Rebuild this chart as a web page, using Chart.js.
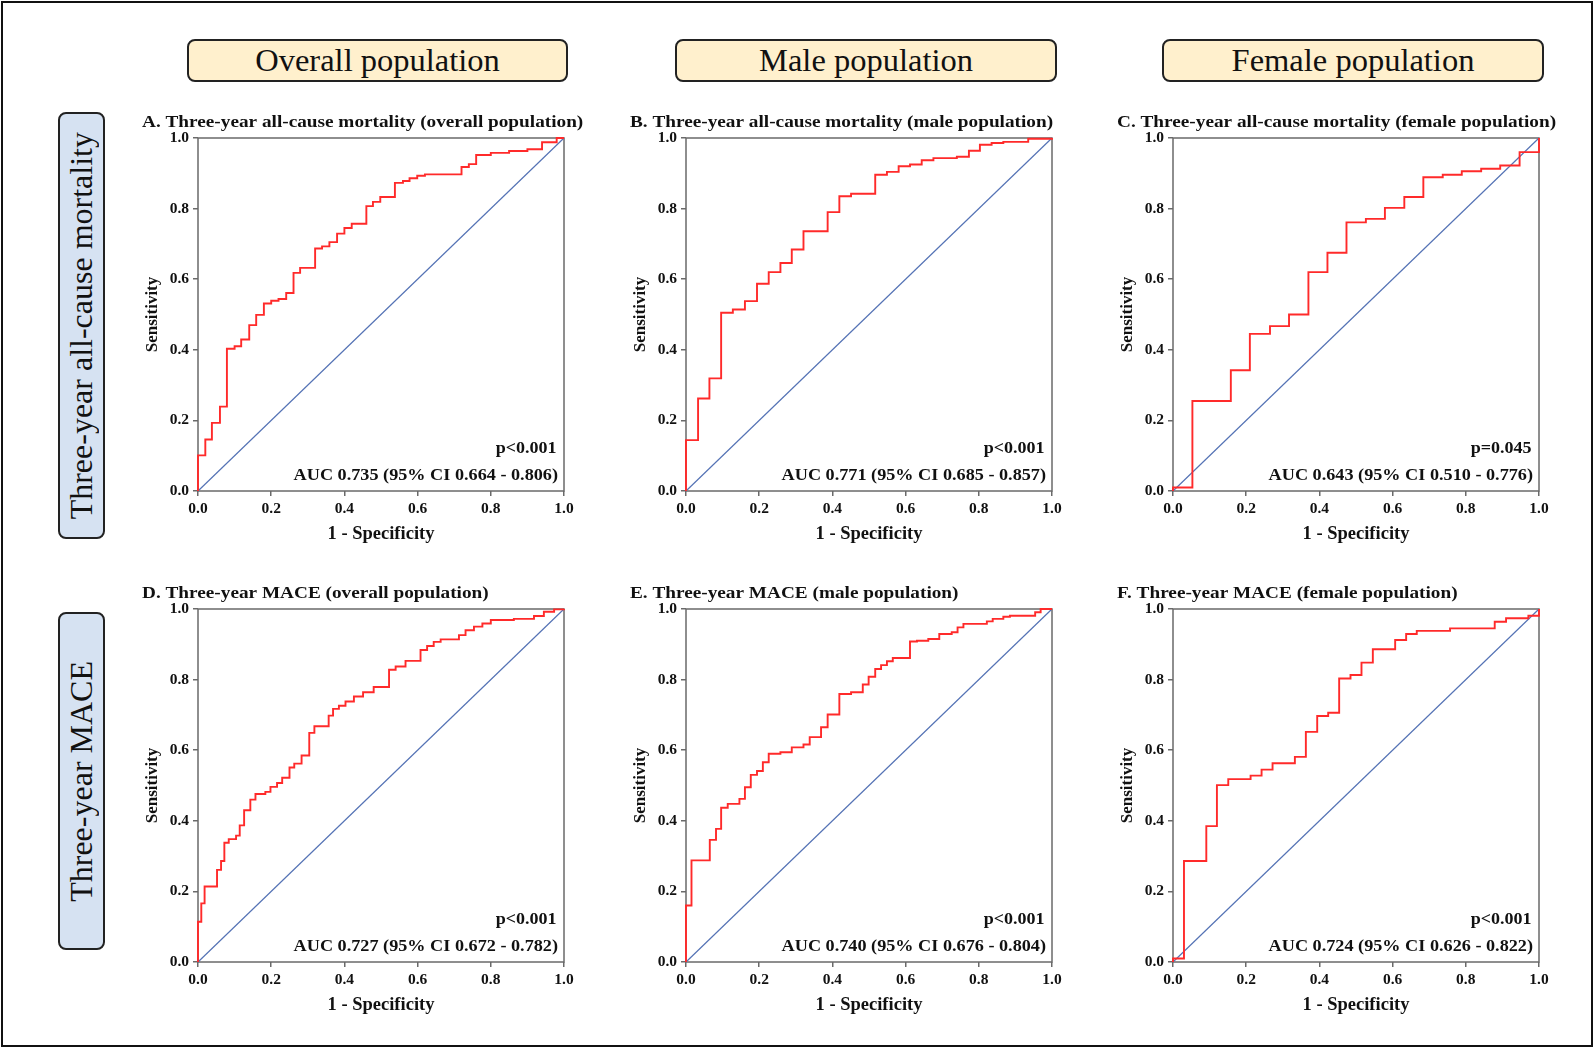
<!DOCTYPE html>
<html>
<head>
<meta charset="utf-8">
<title>ROC curves</title>
<script src="https://cdn.jsdelivr.net/npm/chart.js@4.4.1/dist/chart.umd.min.js"></script>
<style>
  body { margin: 0; background: #fff; }
  #page { position: relative; width: 1594px; height: 1048px; overflow: hidden; font-family: 'Liberation Serif', 'Times New Roman', serif; color: #111; }
  .frame { position: absolute; left: 1px; top: 1px; width: 1592px; height: 1046px; box-sizing: border-box; border: 2px solid #111; }
  .colhead { position: absolute; top: 39px; height: 43px; box-sizing: border-box; border: 2px solid #222; border-radius: 8px; background: #fff0cd; display: flex; align-items: center; justify-content: center; font-size: 32.5px; }
  .rowhead { position: absolute; left: 58px; width: 47px; box-sizing: border-box; border: 2px solid #222; border-radius: 8px; background: #d6e2f2; display: flex; align-items: center; justify-content: center; font-size: 32px; }
  .rowhead span { writing-mode: vertical-rl; transform: rotate(180deg); white-space: nowrap; }
  .panel { position: absolute; }
</style>
</head>
<body>
<div id="page">
  <div class="frame"></div>
</div>
<script>
// Headers
const columnHeaders = ['Overall population', 'Male population', 'Female population'];
const rowHeaders = ['Three-year all-cause mortality', 'Three-year MACE'];

// Panel texts
const panelTitles = [
  'A. Three-year all-cause mortality (overall population)',
  'B. Three-year all-cause mortality (male population)',
  'C. Three-year all-cause mortality (female population)',
  'D. Three-year MACE (overall population)',
  'E. Three-year MACE (male population)',
  'F. Three-year MACE (female population)'
];
const pLabels = ['p<0.001', 'p<0.001', 'p=0.045', 'p<0.001', 'p<0.001', 'p<0.001'];
const aucLabels = [
  'AUC 0.735 (95% CI 0.664 - 0.806)',
  'AUC 0.771 (95% CI 0.685 - 0.857)',
  'AUC 0.643 (95% CI 0.510 - 0.776)',
  'AUC 0.727 (95% CI 0.672 - 0.782)',
  'AUC 0.740 (95% CI 0.676 - 0.804)',
  'AUC 0.724 (95% CI 0.626 - 0.822)'
];

// Axis ticks
const tickValues = [0, 0.2, 0.4, 0.6, 0.8, 1.0];
const tickLabels = ['0.0', '0.2', '0.4', '0.6', '0.8', '1.0'];

// ROC points (1 - specificity, sensitivity)
const fprA = [0, 0, 0.02, 0.038, 0.06, 0.079, 0.1, 0.118, 0.14, 0.159, 0.18, 0.2, 0.22, 0.241, 0.261, 0.279, 0.32, 0.339, 0.359, 0.38, 0.4, 0.42, 0.46, 0.478, 0.498, 0.538, 0.56, 0.578, 0.599, 0.62, 0.72, 0.74, 0.76, 0.8, 0.85, 0.9, 0.94, 0.98, 1.0];
const tprA = [0, 0.101, 0.146, 0.193, 0.239, 0.403, 0.41, 0.429, 0.47, 0.499, 0.531, 0.539, 0.544, 0.561, 0.618, 0.632, 0.687, 0.693, 0.705, 0.729, 0.745, 0.757, 0.807, 0.819, 0.833, 0.873, 0.878, 0.886, 0.893, 0.897, 0.918, 0.926, 0.952, 0.958, 0.963, 0.968, 0.988, 1.0, 1.0];

const fprB = [0, 0, 0.033, 0.064, 0.096, 0.128, 0.161, 0.194, 0.226, 0.258, 0.289, 0.321, 0.387, 0.419, 0.451, 0.517, 0.549, 0.581, 0.612, 0.644, 0.676, 0.74, 0.773, 0.803, 0.835, 0.867, 0.935, 1.0];
const tprB = [0, 0.144, 0.262, 0.319, 0.505, 0.514, 0.538, 0.587, 0.62, 0.646, 0.684, 0.736, 0.79, 0.835, 0.842, 0.896, 0.904, 0.92, 0.925, 0.937, 0.943, 0.947, 0.964, 0.981, 0.986, 0.989, 0.998, 1.0];

const fprC = [0, 0, 0.053, 0.158, 0.21, 0.265, 0.317, 0.37, 0.422, 0.474, 0.527, 0.579, 0.632, 0.684, 0.737, 0.789, 0.842, 0.894, 0.947, 1.0];
const tprC = [0, 0.01, 0.255, 0.342, 0.445, 0.467, 0.5, 0.62, 0.675, 0.761, 0.771, 0.802, 0.833, 0.889, 0.896, 0.906, 0.913, 0.922, 0.96, 1.0];

const fprD = [0, 0, 0.009, 0.018, 0.052, 0.063, 0.072, 0.084, 0.104, 0.114, 0.126, 0.143, 0.157, 0.184, 0.198, 0.216, 0.23, 0.25, 0.263, 0.283, 0.304, 0.318, 0.357, 0.369, 0.385, 0.403, 0.426, 0.451, 0.48, 0.522, 0.54, 0.567, 0.608, 0.626, 0.644, 0.663, 0.713, 0.731, 0.754, 0.777, 0.8, 0.863, 0.918, 0.945, 0.973, 1.0];
const tprD = [0, 0.114, 0.166, 0.214, 0.261, 0.286, 0.338, 0.348, 0.358, 0.387, 0.43, 0.46, 0.476, 0.482, 0.496, 0.507, 0.522, 0.551, 0.562, 0.585, 0.649, 0.668, 0.698, 0.717, 0.726, 0.738, 0.752, 0.764, 0.779, 0.828, 0.837, 0.853, 0.884, 0.895, 0.907, 0.914, 0.926, 0.94, 0.95, 0.959, 0.969, 0.972, 0.98, 0.992, 0.999, 1.0];

const fprE = [0, 0, 0.015, 0.065, 0.082, 0.096, 0.114, 0.146, 0.161, 0.177, 0.194, 0.21, 0.226, 0.258, 0.289, 0.321, 0.338, 0.369, 0.387, 0.419, 0.451, 0.483, 0.499, 0.517, 0.533, 0.549, 0.565, 0.612, 0.631, 0.662, 0.692, 0.726, 0.742, 0.758, 0.822, 0.838, 0.867, 0.885, 0.954, 0.969, 1.0];
const tprE = [0, 0.16, 0.288, 0.346, 0.377, 0.437, 0.448, 0.462, 0.495, 0.53, 0.541, 0.566, 0.59, 0.594, 0.608, 0.616, 0.637, 0.665, 0.701, 0.759, 0.764, 0.786, 0.808, 0.83, 0.841, 0.852, 0.861, 0.908, 0.91, 0.915, 0.929, 0.934, 0.948, 0.958, 0.965, 0.972, 0.978, 0.981, 0.991, 1.0, 1.0];

const fprF = [0, 0, 0.03, 0.091, 0.12, 0.151, 0.212, 0.242, 0.272, 0.333, 0.363, 0.394, 0.424, 0.454, 0.485, 0.515, 0.546, 0.607, 0.637, 0.666, 0.757, 0.879, 0.91, 0.971, 1.0];
const tprF = [0, 0.01, 0.286, 0.385, 0.501, 0.518, 0.528, 0.545, 0.563, 0.581, 0.652, 0.697, 0.706, 0.803, 0.813, 0.848, 0.886, 0.912, 0.929, 0.938, 0.945, 0.964, 0.974, 0.981, 1.0];

const refX = [0, 1];
const refY = [0, 1];

const rocX = [fprA, fprB, fprC, fprD, fprE, fprF];
const rocY = [tprA, tprB, tprC, tprD, tprE, tprF];

// Layout
const FONT = "'Liberation Serif', 'Times New Roman', serif";
const colLefts = [198, 686, 1173];
const rowTops = [138, 609];
const PLOT_W = 366, PLOT_H = 353;
const GUT_L = 60, GUT_T = 32, GUT_R = 30, GUT_B = 58;
const headLefts = [187, 675, 1162];
const headWidths = [381, 382, 382];
const rowHeadTops = [112, 612];
const rowHeadHeights = [427, 338];

const page = document.getElementById('page');

columnHeaders.forEach((txt, i) => {
  const d = document.createElement('div');
  d.className = 'colhead';
  d.style.left = headLefts[i] + 'px';
  d.style.width = headWidths[i] + 'px';
  d.textContent = txt;
  page.appendChild(d);
});

rowHeaders.forEach((txt, i) => {
  const d = document.createElement('div');
  d.className = 'rowhead';
  d.style.top = rowHeadTops[i] + 'px';
  d.style.height = rowHeadHeights[i] + 'px';
  const s = document.createElement('span');
  s.textContent = txt;
  d.appendChild(s);
  page.appendChild(d);
});

// text drawn slightly stretched sideways, like the source figure
function wideText(ctx, txt, x, y, sx) {
  ctx.save();
  ctx.translate(x, y);
  ctx.scale(sx, 1);
  ctx.fillText(txt, 0, 0);
  ctx.restore();
}

// frame around the plot + annotation texts
const panelDeco = {
  id: 'panelDeco',
  beforeDatasetsDraw(chart, args, opts) {
    const {ctx, chartArea: a} = chart;
    ctx.save();
    ctx.strokeStyle = '#6a6a6a';
    ctx.lineWidth = 1.5;
    ctx.strokeRect(a.left, a.top, a.right - a.left, a.bottom - a.top);
    ctx.restore();
  },
  afterDraw(chart, args, opts) {
    const {ctx, chartArea: a} = chart;
    ctx.save();
    ctx.fillStyle = '#111';
    ctx.font = 'bold 17.5px ' + FONT;
    ctx.textAlign = 'left';
    ctx.textBaseline = 'alphabetic';
    wideText(ctx, opts.title, a.left - 56, a.top - 11.5, 1.1);
    ctx.textAlign = 'right';
    ctx.textBaseline = 'middle';
    wideText(ctx, opts.p, a.right - 7.5, a.bottom - 42.5, 1.03);
    wideText(ctx, opts.auc, a.right - 6, a.bottom - 16, 1.04);
    ctx.restore();
  }
};

function axisOpts(isX) {
  return {
    type: 'linear',
    min: 0,
    max: 1,
    afterBuildTicks: s => { s.ticks = tickValues.map(v => ({value: v})); },
    afterFit: s => { if (isX) s.height = GUT_B; else s.width = GUT_L; },
    ticks: {
      callback: (v, i) => tickLabels[i],
      font: {family: FONT, size: 15.5, weight: 'bold'},
      color: '#111',
      padding: 4,
      maxRotation: 0,
      autoSkip: false
    },
    grid: {drawOnChartArea: false, tickLength: 5, color: '#6a6a6a', lineWidth: 1.5},
    border: {display: false},
    title: {
      display: true,
      text: isX ? '1 - Specificity' : 'Sensitivity',
      font: {family: FONT, size: isX ? 18.5 : 17, weight: 'bold'},
      color: '#111',
      padding: isX ? {top: 0, bottom: 4} : {top: 4, bottom: 0}
    }
  };
}

for (let i = 0; i < 6; i++) {
  const col = i % 3, row = Math.floor(i / 3);
  const wrap = document.createElement('div');
  wrap.className = 'panel';
  wrap.style.left = (colLefts[col] - GUT_L) + 'px';
  wrap.style.top = (rowTops[row] - GUT_T) + 'px';
  const cv = document.createElement('canvas');
  cv.width = GUT_L + PLOT_W + GUT_R;
  cv.height = GUT_T + PLOT_H + GUT_B;
  cv.style.width = cv.width + 'px';
  cv.style.height = cv.height + 'px';
  wrap.appendChild(cv);
  page.appendChild(wrap);

  const roc = rocX[i].map((x, k) => ({x: x, y: rocY[i][k]}));
  const ref = refX.map((x, k) => ({x: x, y: refY[k]}));

  new Chart(cv, {
    type: 'line',
    data: {
      datasets: [
        {data: roc, borderColor: '#ff2a2a', borderWidth: 1.9, stepped: 'before', pointRadius: 0, fill: false, clip: false, order: 0},
        {data: ref, borderColor: '#5573b5', borderWidth: 1.2, pointRadius: 0, fill: false, clip: false, order: 1}
      ]
    },
    options: {
      responsive: false,
      animation: false,
      devicePixelRatio: 1,
      layout: {padding: {top: GUT_T, right: GUT_R, left: 0, bottom: 0}},
      plugins: {
        legend: {display: false},
        tooltip: {enabled: false},
        panelDeco: {title: panelTitles[i], p: pLabels[i], auc: aucLabels[i]}
      },
      scales: {x: axisOpts(true), y: axisOpts(false)}
    },
    plugins: [panelDeco]
  });
}
</script>
</body>
</html>
